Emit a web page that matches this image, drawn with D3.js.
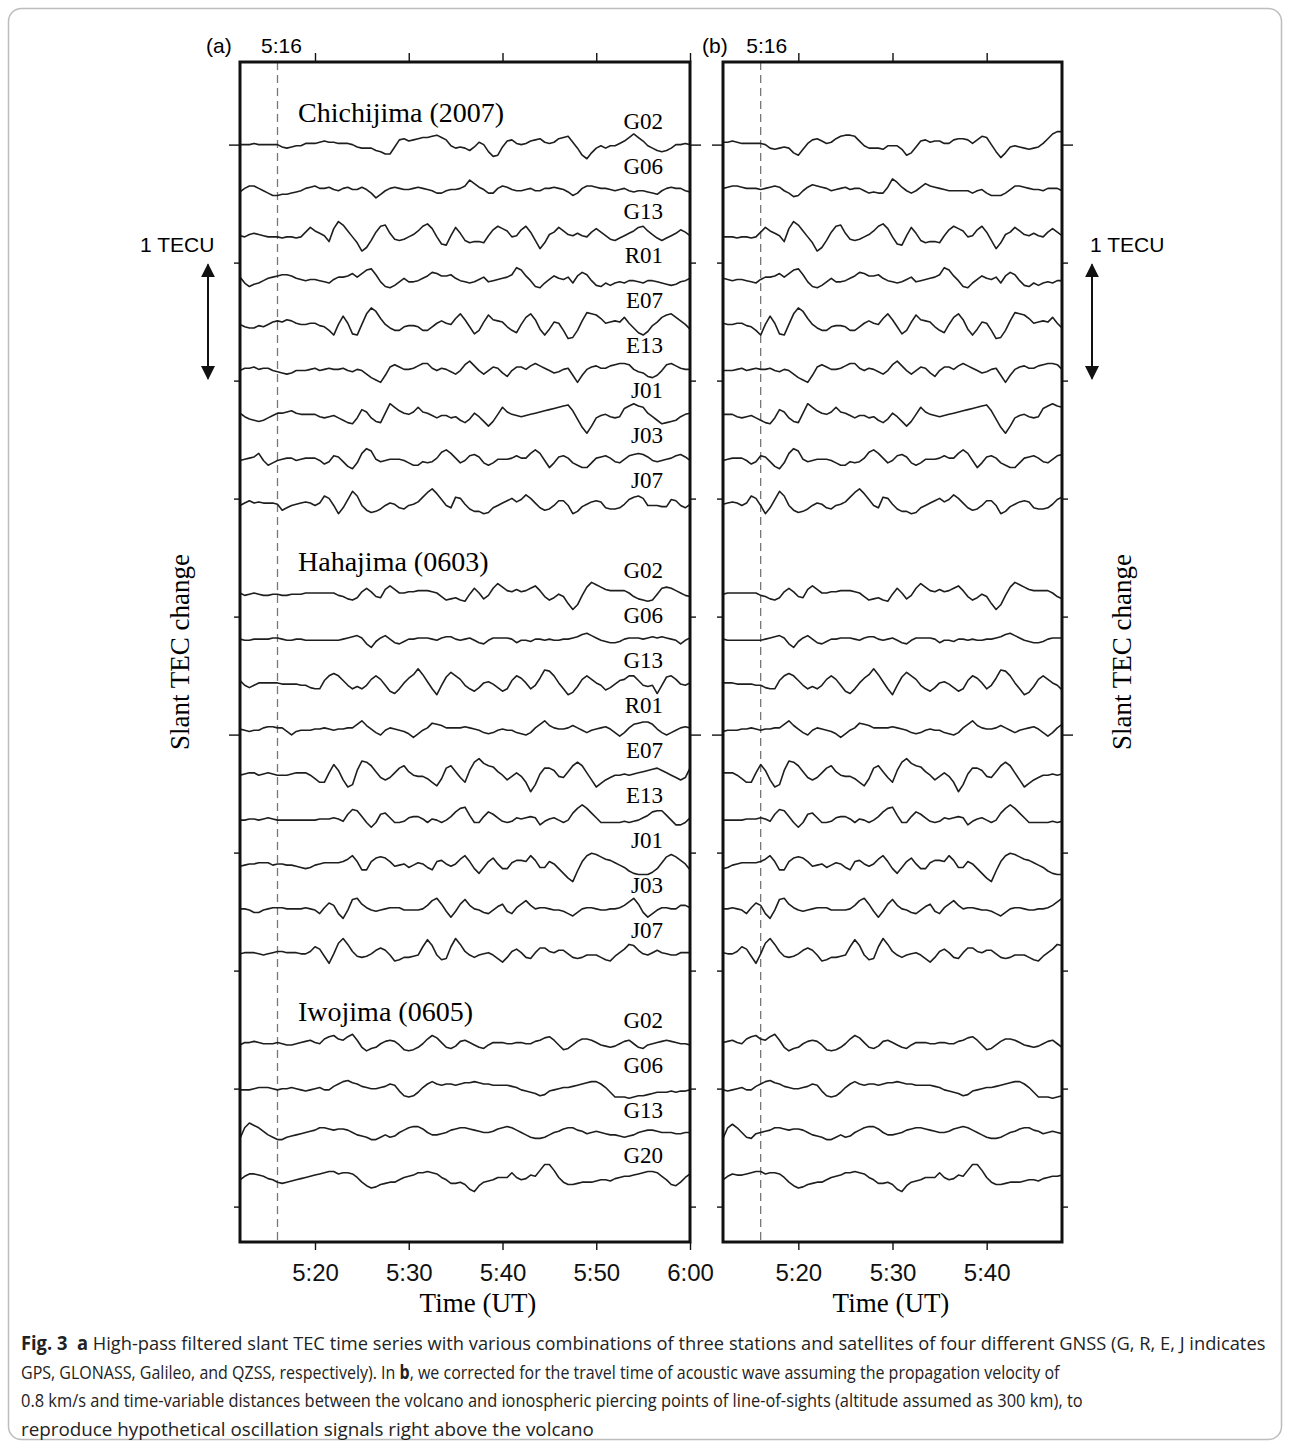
<!DOCTYPE html>
<html>
<head>
<meta charset="utf-8">
<script src="https://cdn.jsdelivr.net/npm/d3@7"></script>
<style>
  body { margin: 0; background: #fff; }
  .sans { font-family: "Liberation Sans", Arial, sans-serif; }
  .serif { font-family: "Liberation Serif", "Times New Roman", serif; }
  .cap { font-family: "Open Sans", "Noto Sans", sans-serif; }
</style>
</head>
<body>
<svg id="fig" width="1290" height="1447"></svg>
<script>
// ---- data: slant TEC change, units of 0.01 TECU, one sample every 30 s from 5:12 UT
const chichiSats = ["G02", "G06", "G13", "R01", "E07", "E13", "J01", "J03", "J07"];
const hahaSats = ["G02", "G06", "G13", "R01", "E07", "E13", "J01", "J03", "J07"];
const iwoSats = ["G02", "G06", "G13", "G20"];
const stationNames = ["Chichijima (2007)", "Hahajima (0603)", "Iwojima (0605)"];

// (a) observed, 5:12-6:00
const chichiA = [
  [0,0,0,1,0,0,0,0,0,-2,-3,-2,-1,-1,1,1,1,2,3,2,2,1,1,1,0,-2,-3,-3,-3,-5,-6,-8,-8,-2,4,5,3,4,5,6,6,7,8,6,4,-1,-3,-2,-3,-5,-2,2,0,-6,-10,-9,-2,3,4,1,0,1,3,4,5,2,1,2,5,6,7,2,-3,-9,-12,-7,-3,-1,-3,-1,-1,1,3,6,9,6,3,-1,-3,-5,-6,-5,-3,0,0,1,0],
  [-2,1,3,3,1,-1,-3,-5,-5,-4,-4,-3,-2,-1,1,2,3,1,1,2,0,-1,1,2,0,0,2,0,-3,-7,-4,-1,1,2,1,0,0,1,2,1,0,-1,-3,-3,-1,0,0,1,3,8,5,2,0,-3,-3,1,3,2,0,-1,-1,0,1,-1,-1,1,1,2,1,0,-2,-5,-3,1,3,3,2,1,1,0,-1,0,1,-1,-2,-1,-1,-2,-3,-4,-1,1,2,1,1,-1,-2],
  [-1,-2,0,1,0,-1,-2,-2,-2,-3,-2,-2,-3,-2,2,6,3,1,-1,-6,5,11,8,3,-2,-7,-14,-11,-5,2,7,8,1,-4,-5,-4,-2,0,3,7,9,5,-2,-8,-9,-1,6,1,-5,-7,-6,-6,-7,-1,4,7,5,3,-2,-1,4,7,2,-5,-12,-7,0,2,6,3,0,-1,1,-1,-2,2,5,2,-1,-4,-5,-3,-1,1,3,6,7,3,0,-3,-5,-3,-1,1,4,2,-1],
  [2,-3,-6,-4,-3,-1,1,2,3,4,4,3,1,0,-1,0,0,-1,-2,-3,0,2,2,3,5,2,5,8,9,4,-2,-6,-7,-5,-2,1,-2,-2,-1,1,3,6,5,3,3,4,1,-1,-2,-3,-2,0,2,-2,-1,0,1,2,4,10,8,3,-1,-6,-7,-3,0,3,1,0,2,-3,3,6,4,-1,-5,-6,-3,-5,-3,-2,-3,-1,-1,-2,-3,-1,-1,-2,-3,-4,-5,-4,-2,-1,1],
  [0,-2,-3,-3,-1,-2,0,2,3,2,4,3,1,0,0,1,1,-1,-2,-5,-9,0,7,1,-8,-9,0,9,14,11,5,0,-3,-5,-5,-2,-1,-1,-2,-5,-5,-2,1,3,1,0,5,9,4,-2,-8,-5,2,8,4,3,2,-2,-5,-7,0,6,9,4,-4,-9,-4,2,1,-5,-12,-11,-5,3,10,9,8,5,1,2,3,2,6,1,-3,-7,-9,-6,-1,2,6,8,9,6,3,0,-4],
  [-1,1,1,2,0,1,1,-1,-2,-3,-4,-3,-1,-1,-1,0,1,-1,0,1,0,0,1,-1,-2,0,-1,-4,-7,-9,-11,-5,2,4,2,0,0,1,3,5,5,1,-1,1,0,-2,-4,-1,4,7,3,-1,-4,-1,2,1,-3,-6,-1,2,2,0,3,5,3,1,-1,-3,-2,0,1,-5,-11,-5,0,2,3,1,1,3,4,5,5,4,0,-2,-3,-6,-7,-5,-1,4,5,3,1,0,0],
  [1,-2,-4,-5,-6,-5,-3,-1,1,1,2,3,1,0,0,0,0,-2,-3,-2,-1,-3,-5,-7,-8,-3,4,2,-3,-6,-7,1,9,6,3,1,0,2,6,2,1,-1,-3,-1,-1,-3,-2,-5,-7,-4,1,-2,-6,-10,-6,0,6,2,0,-1,-2,-1,0,1,2,3,4,5,6,7,8,3,-4,-11,-16,-10,-3,-1,0,-2,-3,-2,5,7,9,7,6,1,-2,-5,-8,-7,-6,-5,-2,0,1],
  [-1,0,1,2,5,-1,-5,-3,-1,0,1,1,-1,0,1,1,1,-1,-4,-2,3,2,-2,-6,-8,-3,5,9,7,0,-2,-1,0,0,0,-1,-3,-5,-5,-2,-3,-2,1,6,8,5,1,-3,-1,3,4,2,-3,-5,-3,0,0,0,1,3,1,1,5,8,5,-1,-7,-3,2,3,1,-3,-5,-7,-7,-3,1,2,3,1,-2,-3,0,3,4,5,4,2,-1,-2,-1,0,1,3,4,2,-1],
  [-1,1,3,1,2,1,1,1,0,-5,-3,-1,0,1,2,1,-1,1,7,5,-1,-8,-3,4,11,7,-1,-5,-7,-6,-4,-1,1,0,-3,-4,-1,0,2,6,10,13,9,4,-1,-3,6,5,0,-4,-6,-6,-8,-7,-3,-1,1,3,5,2,4,8,5,1,-3,-5,-4,-1,3,3,-1,-8,-6,-2,0,2,3,2,-3,-4,-4,-3,0,4,6,7,5,-1,-1,-1,-2,-2,4,3,-1,-3,0]
];

const hahaA = [
  [1,-1,0,1,0,-1,-1,0,0,-1,-1,0,0,0,1,1,1,1,1,1,1,-1,-2,-4,-5,-3,2,5,2,-2,-3,4,7,4,1,1,2,2,3,3,3,2,1,-2,-5,-4,-3,-5,-6,0,5,1,-4,-1,5,9,6,3,2,4,2,3,5,7,3,-2,-5,-3,0,-2,-8,-13,-9,-1,6,10,8,6,4,3,3,3,3,1,-2,-4,-5,-6,-5,0,5,6,5,3,1,-1,-2],
  [0,-1,-1,0,0,0,0,1,1,0,-1,-1,0,0,-1,-1,-1,-1,-1,-1,-1,-1,0,1,2,3,1,-4,-7,-2,1,3,0,-3,-4,-2,0,0,1,1,1,0,-1,1,2,2,0,-1,0,1,-1,-3,-4,-1,1,1,1,1,0,-3,-1,-1,-2,0,0,-1,0,-1,-1,0,0,1,2,4,5,3,1,-1,-2,-3,-3,-2,0,1,1,1,0,1,2,1,2,1,0,-1,-4,-1,1],
  [3,-1,-3,-1,1,1,1,1,1,0,0,0,0,-1,-1,-3,-4,-4,3,7,9,7,3,-1,-4,-2,-4,-1,4,7,4,-1,-6,-8,-4,1,5,8,13,8,2,-4,-9,-1,6,10,7,4,-1,-4,-6,-3,1,2,0,-3,-6,-4,3,7,5,1,-4,-1,5,12,11,7,1,-4,-9,-7,-2,4,7,4,1,-1,-5,-3,0,3,4,7,7,3,-1,-2,-1,-8,-1,6,7,4,0,-1,1],
  [0,-1,-2,-1,-1,1,2,2,1,1,-2,-5,-2,-1,-1,-1,0,0,1,0,-1,0,0,1,1,4,7,3,0,-3,-5,-1,1,0,-1,-2,-4,-7,-4,-1,1,5,4,3,1,1,1,1,2,1,0,-1,-3,-4,-3,-1,0,-1,-1,-3,-4,-5,-3,1,4,7,3,1,0,0,1,3,1,-1,-3,-1,0,1,2,0,-3,-6,-3,1,4,5,6,6,4,0,-3,-5,-3,-1,1,2,1],
  [-1,0,1,1,-1,0,1,0,-1,-1,-1,0,1,1,1,-1,-4,-7,-7,1,8,3,-5,-11,-9,3,11,10,7,2,-3,-5,-3,1,5,7,2,-1,-2,-2,-4,-7,-10,-4,5,7,2,-3,-7,3,10,13,9,7,6,2,-1,-5,-2,1,-2,-7,-15,-9,0,5,5,3,-2,-3,2,7,10,7,1,-5,-11,-8,-5,-3,-1,-1,0,-1,0,1,2,3,4,5,3,1,-1,-3,-5,-3,5],
  [-1,-1,0,0,-1,0,1,0,-1,-1,-1,-1,-1,-1,-1,-1,-1,0,0,0,1,0,-2,4,8,7,2,-3,-7,-3,4,5,1,-3,-3,-2,1,2,2,0,-3,0,-1,-3,-1,2,6,9,10,3,-3,-3,2,6,4,1,-2,-3,-2,1,0,1,2,1,-5,-2,0,1,-1,-3,-1,5,9,12,9,5,1,-3,-3,-3,-3,-3,-2,-3,-2,-1,1,3,6,7,7,3,-1,-5,-5,-3,1],
  [-2,-1,0,0,1,1,1,-1,0,0,-1,-1,-2,-3,-4,-3,-1,0,1,1,1,1,2,4,7,2,-5,-5,2,5,6,5,2,-2,-1,0,-3,-1,1,0,-3,-5,2,3,0,-2,0,4,7,2,-4,-8,-3,2,5,0,-4,-4,1,3,3,2,7,3,-3,-3,2,0,-4,-8,-12,-15,-6,2,7,9,8,6,4,3,1,-1,-3,-6,-8,-9,-9,-9,-7,-4,1,6,8,6,3,0,-5],
  [0,0,-1,-3,-3,-1,0,1,1,1,0,0,0,0,1,0,-1,-4,1,5,3,-4,-8,-1,8,9,4,1,-1,-2,-1,0,1,1,1,-1,-1,-1,-1,0,3,7,9,4,-2,-7,-2,4,8,3,0,-1,-3,-4,-1,2,4,-2,-4,1,4,7,3,0,1,1,0,-1,-1,-2,-4,-6,-3,0,1,1,0,-1,-1,0,0,1,3,6,9,4,-3,-7,-4,-1,1,1,0,0,3,3,1],
  [0,1,1,1,0,-1,0,1,2,2,1,1,1,0,0,2,6,4,-2,-8,0,9,13,8,2,-2,-3,-2,0,3,5,3,-1,-6,-5,-3,-3,-2,-1,6,12,7,-1,-5,-4,6,13,8,2,-1,-3,-1,0,1,-1,-4,-7,-3,2,4,1,-3,-4,1,5,5,2,1,3,3,0,-3,-4,-3,-1,-1,-1,-3,-5,-6,-2,1,4,8,7,3,0,-1,1,3,1,0,-1,-1,1,1,1]
];

const iwoA = [
  [-1,1,1,2,1,0,0,0,1,0,-1,-1,0,1,2,3,1,0,4,6,7,4,3,6,8,3,-3,-6,-4,-3,0,2,3,2,-1,-5,-6,-5,-3,0,4,7,5,1,-3,-4,-2,2,3,1,-1,-3,-4,-1,1,1,1,0,0,1,1,0,0,2,3,5,6,3,-1,-5,-4,-1,2,4,4,3,1,-1,-2,-3,-2,0,2,3,0,-3,-4,-1,0,1,2,3,2,1,0,0,-1],
  [-1,-1,-1,0,1,1,1,0,-1,0,0,1,0,-1,-2,-1,0,1,-1,-1,2,4,6,7,5,4,2,1,0,0,1,2,4,3,-2,-6,-7,-6,-3,1,4,6,4,3,4,4,3,4,5,5,6,5,4,4,3,3,3,3,2,1,-1,-2,-3,-4,-6,-5,-2,-1,0,1,1,2,3,4,5,6,6,4,1,-3,-7,-7,-7,-8,-7,-6,-6,-5,-4,-3,-3,-3,-2,-3,-2,-2,-1],
  [-4,5,9,7,5,2,-1,-3,-5,-5,-3,-2,-1,0,1,2,3,5,5,4,3,4,4,3,1,-1,-2,-3,-5,-5,-3,-1,-3,-2,1,3,5,6,6,4,1,-1,-1,0,1,3,4,5,5,4,3,2,1,1,2,4,5,6,5,3,1,-1,-3,-4,-4,-3,-1,1,2,4,5,5,3,2,0,1,2,1,0,-1,-1,-2,-3,-2,-1,1,2,3,3,2,1,1,1,0,0,1,1],
  [-1,2,4,4,3,2,0,-1,-3,-4,-3,-2,-1,0,1,2,3,4,5,6,6,4,5,5,4,1,-3,-6,-8,-7,-5,-4,-3,-3,-1,1,2,3,5,5,6,5,4,1,-1,-4,-4,-3,-5,-9,-11,-6,-3,-2,-1,1,1,1,5,1,-1,0,3,2,7,12,12,7,1,-3,-5,-5,-4,-3,-3,-3,-2,-1,-1,-2,0,1,2,2,3,4,5,6,6,5,2,-1,-5,-6,-3,1,4]
];

// (b) corrected for acoustic travel time, 5:12-5:48
const chichiB = [
  [2,2,3,2,1,1,1,1,1,0,-3,-4,-3,-2,-3,-7,-9,-4,1,4,5,3,1,2,5,7,8,8,7,3,-1,-3,-3,-3,-4,-1,-1,-1,-4,-9,-7,-2,3,4,2,3,3,1,1,4,5,5,4,1,4,7,6,0,-6,-11,-7,-2,-1,-2,-3,-4,-3,-2,1,5,9,11,11],
  [1,2,3,3,2,1,1,1,0,1,2,3,2,-1,-3,-6,-5,-1,2,4,3,2,1,-1,0,1,2,0,1,1,-1,-3,-2,-3,-3,2,9,6,2,-1,-3,-1,2,5,3,2,1,0,-1,-1,-1,-1,-1,-3,-1,0,-3,-5,-5,-5,-3,0,3,3,2,1,0,0,-1,1,1,1,-1],
  [-2,-2,-2,-3,-2,-2,-3,-2,2,6,3,1,-1,-6,5,11,8,3,-2,-7,-14,-11,-5,2,7,8,1,-4,-5,-4,-2,0,3,7,9,5,-2,-8,-9,-1,6,1,-5,-7,-6,-6,-7,-1,4,7,5,3,-2,-1,4,7,2,-5,-12,-7,0,2,6,3,0,-1,1,-1,-2,2,5,2,-1],
  [1,0,-1,0,0,-1,-2,-3,0,2,2,3,5,2,5,8,9,4,-2,-6,-7,-5,-2,1,-2,-2,-1,1,3,6,5,3,3,4,1,-1,-2,-3,-2,0,2,-2,-1,0,1,2,4,10,8,3,-1,-6,-7,-3,0,3,1,0,2,-3,3,6,4,-1,-5,-6,-3,-5,-3,-2,-3,-1,-1],
  [1,0,0,1,1,-1,-2,-5,-9,0,7,1,-8,-9,0,9,14,11,5,0,-3,-5,-5,-2,-1,-1,-2,-5,-5,-2,1,3,1,0,5,9,4,-2,-8,-5,2,8,4,3,2,-2,-5,-7,0,6,9,4,-4,-9,-4,2,1,-5,-12,-11,-5,3,10,9,8,5,1,2,3,2,6,1,-3],
  [-1,-1,-1,0,1,-1,0,1,0,0,1,-1,-2,0,-1,-4,-7,-9,-11,-5,2,4,2,0,0,1,3,5,5,1,-1,1,0,-2,-4,-1,4,7,3,-1,-4,-1,2,1,-3,-6,-1,2,2,0,3,5,3,1,-1,-3,-2,0,1,-5,-11,-5,0,2,3,1,1,3,4,5,5,4,0],
  [0,0,0,-2,-3,-2,-1,-3,-5,-7,-8,-3,4,2,-3,-6,-7,1,9,6,3,1,0,2,6,2,1,-1,-3,-1,-1,-3,-2,-5,-7,-4,1,-2,-6,-10,-6,0,6,2,0,-1,-2,-1,0,1,2,3,4,5,6,7,8,3,-4,-11,-16,-10,-3,-1,0,-2,-3,-2,5,7,9,7,6],
  [-1,0,1,1,1,-1,-4,-2,3,2,-2,-6,-8,-3,5,9,7,0,-2,-1,0,0,0,-1,-3,-5,-5,-2,-3,-2,1,6,8,5,1,-3,-1,3,4,2,-3,-5,-3,0,0,0,1,3,1,1,5,8,5,-1,-7,-3,2,3,1,-3,-5,-7,-7,-3,1,2,3,1,-2,-3,0,3,4],
  [0,1,2,1,-1,1,7,5,-1,-8,-3,4,11,7,-1,-5,-7,-6,-4,-1,1,0,-3,-4,-1,0,2,6,10,13,9,4,-1,-3,6,5,0,-4,-6,-6,-8,-7,-3,-1,1,3,5,2,4,8,5,1,-3,-5,-4,-1,3,3,-1,-8,-6,-2,0,2,3,2,-3,-4,-4,-3,0,4,6]
];

const hahaB = [
  [0,1,1,1,1,1,1,1,-1,-2,-4,-5,-3,2,5,2,-2,-3,4,7,4,1,1,2,2,3,3,3,2,1,-2,-5,-4,-3,-5,-6,0,5,1,-4,-1,5,9,6,3,2,4,2,3,5,7,3,-2,-5,-3,0,-2,-8,-13,-9,-1,6,10,8,6,4,3,3,3,3,1,-2,-4],
  [0,-1,-1,-1,-1,-1,-1,-1,-1,0,1,2,3,1,-4,-7,-2,1,3,0,-3,-4,-2,0,0,1,1,1,0,-1,1,2,2,0,-1,0,1,-1,-3,-4,-1,1,1,1,1,0,-3,-1,-1,-2,0,0,-1,0,-1,-1,0,0,1,2,4,5,3,1,-1,-2,-3,-3,-2,0,1,1,1],
  [1,1,1,0,0,0,0,-1,-1,-3,-4,-4,3,7,9,7,3,-1,-4,-2,-4,-1,4,7,4,-1,-6,-8,-4,1,5,8,13,8,2,-4,-9,-1,6,10,7,4,-1,-4,-6,-3,1,2,0,-3,-6,-4,3,7,5,1,-4,-1,5,12,11,7,1,-4,-9,-7,-2,4,7,4,1,-1,-5],
  [-2,-1,-1,-1,0,0,1,0,-1,0,0,1,1,4,7,3,0,-3,-5,-1,1,0,-1,-2,-4,-7,-4,-1,1,5,4,3,1,1,1,1,2,1,0,-1,-3,-4,-3,-1,0,-1,-1,-3,-4,-5,-3,1,4,7,3,1,0,0,1,3,1,-1,-3,-1,0,1,2,0,-3,-6,-3,1,4],
  [1,1,1,-1,-4,-7,-7,1,8,3,-5,-11,-9,3,11,10,7,2,-3,-5,-3,1,5,7,2,-1,-2,-2,-4,-7,-10,-4,5,7,2,-3,-7,3,10,13,9,7,6,2,-1,-5,-2,1,-2,-7,-15,-9,0,5,5,3,-2,-3,2,7,10,7,1,-5,-11,-8,-5,-3,-1,-1,0,-1,0],
  [-1,-1,-1,-1,-1,0,0,0,1,0,-2,4,8,7,2,-3,-7,-3,4,5,1,-3,-3,-2,1,2,2,0,-3,0,-1,-3,-1,2,6,9,10,3,-3,-3,2,6,4,1,-2,-3,-2,1,0,1,2,1,-5,-2,0,1,-1,-3,-1,5,9,12,9,5,1,-3,-3,-3,-3,-3,-2,-3,-2],
  [-4,-3,-1,0,1,1,1,1,2,4,7,2,-5,-5,2,5,6,5,2,-2,-1,0,-3,-1,1,0,-3,-5,2,3,0,-2,0,4,7,2,-4,-8,-3,2,5,0,-4,-4,1,3,3,2,7,3,-3,-3,2,0,-4,-8,-12,-15,-6,2,7,9,8,6,4,3,1,-1,-3,-6,-8,-9,-9],
  [0,0,1,0,-1,-4,1,5,3,-4,-8,-1,8,9,4,1,-1,-2,-1,0,1,1,1,-1,-1,-1,-1,0,3,7,9,4,-2,-7,-2,4,8,3,0,-1,-3,-4,-1,2,4,-2,-4,1,4,7,3,0,1,1,0,-1,-1,-2,-4,-6,-3,0,1,1,0,-1,-1,0,0,1,3,6,9],
  [1,0,0,2,6,4,-2,-8,0,9,13,8,2,-2,-3,-2,0,3,5,3,-1,-6,-5,-3,-3,-2,-1,6,12,7,-1,-5,-4,6,13,8,2,-1,-3,-1,0,1,-1,-4,-7,-3,2,4,1,-3,-4,1,5,5,2,1,3,3,0,-3,-4,-3,-1,-1,-1,-3,-5,-6,-2,1,4,8,7]
];

const iwoB = [
  [1,2,3,1,0,4,6,7,4,3,6,8,3,-3,-6,-4,-3,0,2,3,2,-1,-5,-6,-5,-3,0,4,7,5,1,-3,-4,-2,2,3,1,-1,-3,-4,-1,1,1,1,0,0,1,1,0,0,2,3,5,6,3,-1,-5,-4,-1,2,4,4,3,1,-1,-2,-3,-2,0,2,3,0,-3],
  [-1,-2,-1,0,1,-1,-1,2,4,6,7,5,4,2,1,0,0,1,2,4,3,-2,-6,-7,-6,-3,1,4,6,4,3,4,4,3,4,5,5,6,5,4,4,3,3,3,3,2,1,-1,-2,-3,-4,-6,-5,-2,-1,0,1,1,2,3,4,5,6,6,4,1,-3,-7,-7,-7,-8,-7,-6],
  [-4,5,8,5,1,-3,-4,0,1,2,3,5,5,4,3,4,4,3,1,-1,-2,-3,-5,-5,-3,-1,-3,-2,1,3,5,6,6,4,1,-1,-1,0,1,3,4,5,5,4,3,2,1,1,2,4,5,6,5,3,1,-1,-3,-4,-4,-3,-1,1,2,4,5,5,3,2,0,1,2,1,0],
  [-1,2,4,3,3,4,5,6,6,4,5,5,4,1,-3,-6,-8,-7,-5,-4,-3,-3,-1,1,2,3,5,5,6,5,4,1,-1,-4,-4,-3,-5,-9,-11,-6,-3,-2,-1,1,1,1,5,1,-1,0,3,2,7,12,12,7,1,-3,-5,-5,-4,-3,-3,-3,-2,-1,-1,-2,0,1,2,2,3]
];

const timeTicksA = [20, 30, 40, 50, 60];
const timeTicksB = [20, 30, 40];
const markMinute = 16;

// ---- layout
const svg = d3.select("#fig");
const sampleStep = 0.5;      // minutes
const traceGap = 0.381;      // TECU between stacked traces
const topLevel = 9;          // TECU level of the first trace
const stationSlot = [0, 10, 20];

// outer frame of the figure
svg.append("rect")
  .attr("x", 8.5).attr("y", 8.5)
  .attr("width", 1273).attr("height", 1431)
  .attr("rx", 13)
  .attr("fill", "none")
  .attr("stroke", "#bdbdbd")
  .attr("stroke-width", 1.5);

const yTec = d3.scaleLinear().domain([-0.3, 9.7]).range([1242, 62]);
const fmtTime = m => `${5 + Math.floor(m / 60)}:${String(m % 60).padStart(2, "0")}`;

const panels = [
  { id: "a", x0: 240, x1: 690, end: 60, ticks: timeTicksA, data: [chichiA, hahaA, iwoA], labels: true, timeX: 478, tagX: 206, markDx: 4 },
  { id: "b", x0: 723, x1: 1062, end: 48, ticks: timeTicksB, data: [chichiB, hahaB, iwoB], labels: false, timeX: 891, tagX: 702, markDx: 6 }
];
const sats = [chichiSats, hahaSats, iwoSats];

panels.forEach(p => {
  const x = d3.scaleLinear().domain([12, p.end]).range([p.x0, p.x1]);
  const g = svg.append("g");

  g.append("clipPath").attr("id", "clip" + p.id)
    .append("rect")
    .attr("x", p.x0).attr("y", yTec.range()[1])
    .attr("width", p.x1 - p.x0).attr("height", yTec.range()[0] - yTec.range()[1]);

  // dashed 5:16 marker
  g.append("line")
    .attr("x1", x(markMinute)).attr("x2", x(markMinute))
    .attr("y1", yTec.range()[1]).attr("y2", yTec.range()[0])
    .attr("stroke", "#777")
    .attr("stroke-width", 1.3)
    .attr("stroke-dasharray", "8,5");

  // traces
  const traces = g.append("g").attr("clip-path", `url(#clip${p.id})`);
  p.data.forEach((station, si) => {
    station.forEach((vals, ti) => {
      const level = topLevel - (stationSlot[si] + ti) * traceGap;
      const line = d3.line()
        .x((d, i) => x(12 + i * sampleStep))
        .y(d => yTec(level + d / 100));
      traces.append("path")
        .attr("d", line(vals))
        .attr("fill", "none")
        .attr("stroke", "#1e1e1e")
        .attr("stroke-width", 1.6)
        .attr("stroke-linejoin", "round");
    });
  });

  if (p.labels) {
    sats.forEach((list, si) => {
      g.append("text")
        .attr("class", "serif")
        .attr("x", p.x0 + 58)
        .attr("y", yTec(topLevel - stationSlot[si] * traceGap) - 23)
        .attr("font-size", 28)
        .text(stationNames[si]);
      list.forEach((s, ti) => {
        g.append("text")
          .attr("class", "serif")
          .attr("x", p.x1 - 27)
          .attr("y", yTec(topLevel - (stationSlot[si] + ti) * traceGap) - 16)
          .attr("font-size", 23)
          .attr("text-anchor", "end")
          .text(s);
      });
    });
  }

  // y ticks on both sides
  const yTicks = d3.range(0, 10);
  [[d3.axisLeft, p.x0, -1], [d3.axisRight, p.x1, 1]].forEach(([axis, xp, dir]) => {
    const ax = g.append("g")
      .attr("transform", `translate(${xp},0)`)
      .call(axis(yTec).tickValues(yTicks).tickSize(6).tickFormat(""));
    ax.select(".domain").remove();
    ax.selectAll(".tick line")
      .attr("x2", d => dir * (d % 5 === 4 ? 11 : 6))
      .attr("stroke", "#111")
      .attr("stroke-width", 1.4);
  });

  // time axes
  const top = g.append("g")
    .attr("transform", `translate(0,${yTec.range()[1]})`)
    .call(d3.axisTop(x).tickValues(p.ticks).tickSize(9).tickFormat(""));
  top.select(".domain").remove();
  top.selectAll(".tick line").attr("stroke", "#111").attr("stroke-width", 1.4);

  const bottom = g.append("g")
    .attr("transform", `translate(0,${yTec.range()[0]})`)
    .call(d3.axisBottom(x).tickValues(p.ticks).tickSize(8).tickPadding(14).tickFormat(fmtTime));
  bottom.select(".domain").remove();
  bottom.selectAll(".tick line").attr("stroke", "#111").attr("stroke-width", 1.4);
  bottom.selectAll(".tick text")
    .attr("class", "sans")
    .attr("font-size", 24)
    .attr("fill", "#111");

  // frame
  g.append("rect")
    .attr("x", p.x0).attr("y", yTec.range()[1])
    .attr("width", p.x1 - p.x0).attr("height", yTec.range()[0] - yTec.range()[1])
    .attr("fill", "none")
    .attr("stroke", "#111")
    .attr("stroke-width", 3);

  g.append("text")
    .attr("class", "sans")
    .attr("x", p.tagX).attr("y", 53)
    .attr("font-size", 21)
    .text(`(${p.id})`);
  g.append("text")
    .attr("class", "sans")
    .attr("x", x(markMinute) + p.markDx).attr("y", 53)
    .attr("font-size", 21)
    .attr("text-anchor", "middle")
    .text(fmtTime(markMinute));

  g.append("text")
    .attr("class", "serif")
    .attr("x", p.timeX).attr("y", 1312)
    .attr("font-size", 27)
    .attr("text-anchor", "middle")
    .text("Time (UT)");
});

// 1 TECU scale arrows and y labels
svg.append("defs").append("marker")
  .attr("id", "head")
  .attr("viewBox", "0 0 10 10")
  .attr("refX", 9).attr("refY", 5)
  .attr("markerWidth", 7).attr("markerHeight", 8)
  .attr("markerUnits", "strokeWidth")
  .attr("orient", "auto-start-reverse")
  .append("path")
  .attr("d", "M0,0 L10,5 L0,10 z")
  .attr("fill", "#111");

[{ ax: 208, tx: 140, lx: 189 }, { ax: 1092, tx: 1090, lx: 1131 }].forEach(s => {
  svg.append("line")
    .attr("x1", s.ax).attr("x2", s.ax)
    .attr("y1", yTec(8) + 2).attr("y2", yTec(7) - 2)
    .attr("stroke", "#111")
    .attr("stroke-width", 2)
    .attr("marker-start", "url(#head)")
    .attr("marker-end", "url(#head)");
  svg.append("text")
    .attr("class", "sans")
    .attr("x", s.tx).attr("y", 252)
    .attr("font-size", 21)
    .text("1 TECU");
  svg.append("text")
    .attr("class", "serif")
    .attr("transform", `translate(${s.lx},652) rotate(-90)`)
    .attr("font-size", 27)
    .attr("text-anchor", "middle")
    .text("Slant TEC change");
});

// caption, each line squeezed to the width it takes in the original
const capLines = [
  { y: 1350, w: 1245, parts: [["Fig. 3", true], ["\u00a0\u00a0", false], ["a", true], [" High-pass filtered slant TEC time series with various combinations of three stations and satellites of four different GNSS (G, R, E, J indicates", false]] },
  { y: 1379, w: 1039, parts: [["GPS, GLONASS, Galileo, and QZSS, respectively). In ", false], ["b", true], [", we corrected for the travel time of acoustic wave assuming the propagation velocity of", false]] },
  { y: 1407, w: 1062, parts: [["0.8 km/s and time-variable distances between the volcano and ionospheric piercing points of line-of-sights (altitude assumed as 300 km), to", false]] },
  { y: 1436, w: 573, parts: [["reproduce hypothetical oscillation signals right above the volcano", false]] }
];
capLines.forEach(l => {
  const t = svg.append("text")
    .attr("class", "cap")
    .attr("font-size", 19)
    .attr("fill", "#222");
  l.parts.forEach(([txt, bold]) => {
    t.append("tspan").attr("font-weight", bold ? 700 : 400).text(txt);
  });
  const natural = t.node().getComputedTextLength();
  t.attr("transform", `translate(21,${l.y}) scale(${l.w / natural},1)`);
});
</script>
</body>
</html>
